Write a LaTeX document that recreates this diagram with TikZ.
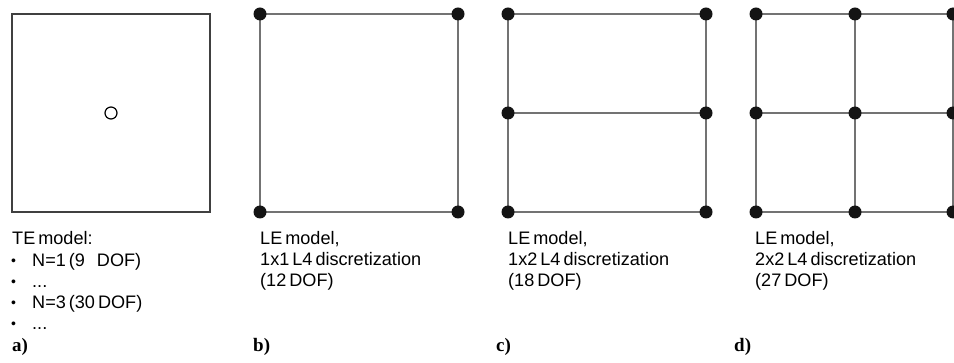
\documentclass[tikz,border=0pt]{standalone}
\usepackage{fontspec}
\setmainfont[WordSpace=0.6]{Liberation Sans}
\newfontfamily\labfont{Liberation Serif}
\begin{document}
\begin{tikzpicture}[x=1pt,y=-1pt,
  edge/.style={draw=black!55, line width=1.3pt},
  frame/.style={draw=black!75, line width=1.1pt, rectangle, inner sep=0pt, minimum size=198pt},
  ring/.style={draw=black, line width=1.2pt, circle, inner sep=0pt, minimum size=12pt},
  dot/.style={circle, fill=black!92, inner sep=0pt, minimum size=13pt},
  txt/.style={anchor=base west, inner sep=0pt, font=\fontsize{18.1}{21}\selectfont},
  bul/.style={anchor=base west, inner sep=0pt, font=\fontsize{14}{14}\selectfont},
  lab/.style={anchor=base west, inner sep=0pt, font=\fontsize{19}{21}\labfont\bfseries}]
\useasboundingbox (0,0) rectangle (954,363);

% ---- a) TE model
\node[frame] (sqa) at (111,113) {};
\node[ring] (pt) at (111,113) {};
\node[txt] (ta0) at (12,245) {TE model:};
\node[bul] (ba1) at (11,266) {•};
\node[txt] (ta1) at (32,266.5) {N=1 (9\hspace*{12pt}DOF)};
\node[bul] (ba2) at (11,287) {•};
\node[txt] (ta2) at (32,287.5) {...};
\node[bul] (ba3) at (11,308) {•};
\node[txt] (ta3) at (32,308.5) {N=3 (30 DOF)};
\node[bul] (ba4) at (11,329) {•};
\node[txt] (ta4) at (32,329.5) {...};
\node[lab] (la) at (12,352) {a)};

% ---- b) 1x1
\coordinate (b11) at (260,14);
\coordinate (b12) at (458,14);
\coordinate (b21) at (260,212);
\coordinate (b22) at (458,212);
\draw[edge] (b11) -- (b12) -- (b22) -- (b21) -- cycle;
\foreach \p in {b11,b12,b21,b22} \node[dot] (d\p) at (\p) {};
\node[txt] (tb0) at (260,245) {LE model,};
\node[txt] (tb1) at (260,266) {1x1 L4 discretization};
\node[txt] (tb2) at (260,287) {(12 DOF)};
\node[lab] (lb) at (253,352) {b)};

% ---- c) 1x2
\coordinate (c11) at (508,14);
\coordinate (c12) at (706,14);
\coordinate (c21) at (508,113);
\coordinate (c22) at (706,113);
\coordinate (c31) at (508,212);
\coordinate (c32) at (706,212);
\draw[edge] (c11) -- (c12) -- (c32) -- (c31) -- cycle;
\draw[edge] (c21) -- (c22);
\foreach \p in {c11,c12,c21,c22,c31,c32} \node[dot] (d\p) at (\p) {};
\node[txt] (tc0) at (508,245) {LE model,};
\node[txt] (tc1) at (508,266) {1x2 L4 discretization};
\node[txt] (tc2) at (508,287) {(18 DOF)};
\node[lab] (lc) at (496,352) {c)};

% ---- d) 2x2
\coordinate (e11) at (756,14);
\coordinate (e12) at (855,14);
\coordinate (e13) at (953,14);
\coordinate (e21) at (756,113);
\coordinate (e22) at (855,113);
\coordinate (e23) at (953,113);
\coordinate (e31) at (756,212);
\coordinate (e32) at (855,212);
\coordinate (e33) at (953,212);
\draw[edge] (e11) -- (e13) -- (e33) -- (e31) -- cycle;
\draw[edge] (e21) -- (e23);
\draw[edge] (e12) -- (e32);
\foreach \p in {e11,e12,e13,e21,e22,e23,e31,e32,e33} \node[dot] (d\p) at (\p) {};
\node[txt] (td0) at (755,245) {LE model,};
\node[txt] (td1) at (755,266) {2x2 L4 discretization};
\node[txt] (td2) at (755,287) {(27 DOF)};
\node[lab] (ld) at (734,352) {d)};
\end{tikzpicture}
\end{document}
